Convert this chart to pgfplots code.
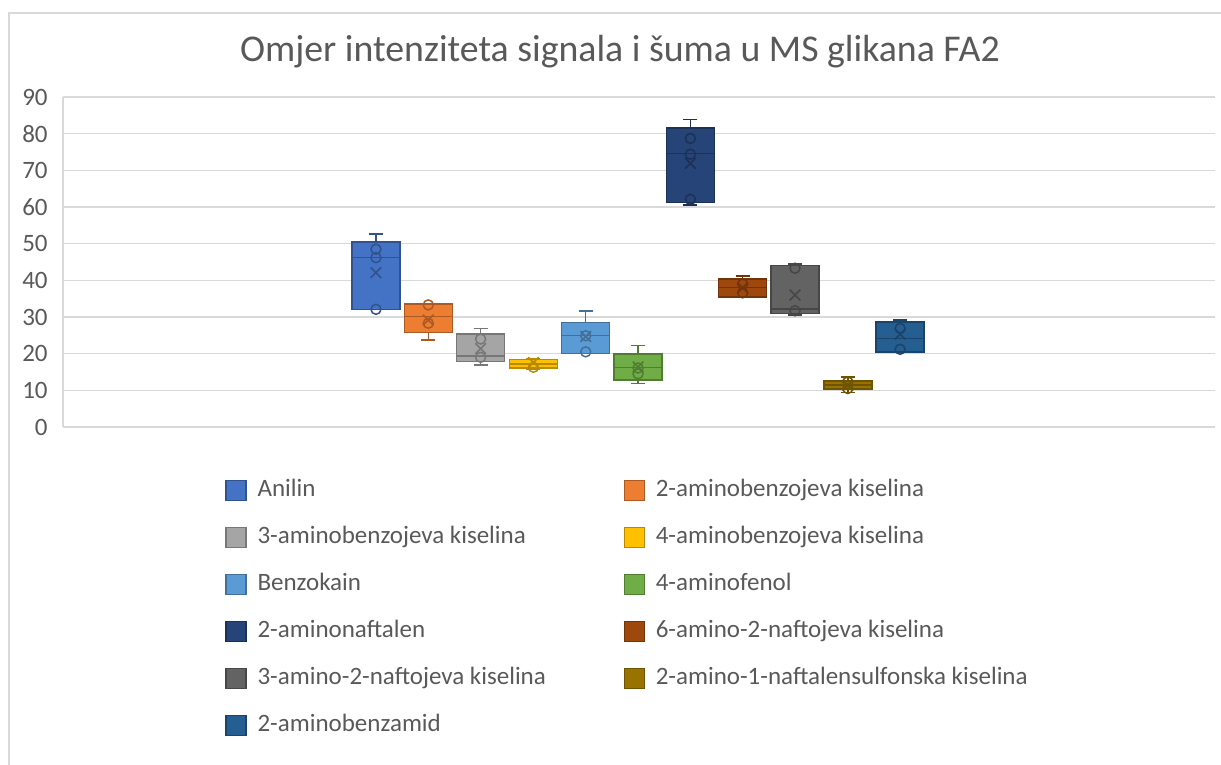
\documentclass[border=0pt]{standalone}
\usepackage{fontspec}
\setmainfont{Carlito}
\usepackage{pgfplots}
\usepgfplotslibrary{statistics}
\pgfplotsset{compat=1.18}
\definecolor{tc}{HTML}{595959}
\definecolor{gridc}{HTML}{D9D9D9}
\definecolor{cA}{HTML}{4472C4}
\definecolor{cB}{HTML}{ED7D31}
\definecolor{cC}{HTML}{A5A5A5}
\definecolor{cD}{HTML}{FFC000}
\definecolor{cE}{HTML}{5B9BD5}
\definecolor{cF}{HTML}{70AD47}
\definecolor{cG}{HTML}{264478}
\definecolor{cH}{HTML}{9E480E}
\definecolor{cI}{HTML}{636363}
\definecolor{cJ}{HTML}{997300}
\definecolor{cK}{HTML}{255E91}
% box: #1 colour, #2 position, #3 lw, #4 lq, #5 med, #6 uq, #7 uw, #8 name
\newcommand{\bx}[8]{%
  \addplot+[solid, mark=none, fill=#1, draw=#1!72!black, line width=0.75pt,
    boxplot prepared={draw position=#2, lower whisker=#3, lower quartile=#4,
      median=#5, upper quartile=#6, upper whisker=#7,
      box extend=1, whisker extend=0.29},
    legend image code/.code={\draw[fill=#1, draw=#1!72!black, line width=0.6pt] (0pt,-5pt) rectangle (10pt,5pt);}] coordinates {};
  \addlegendentry{#8}}
\newcommand{\mn}[2]{%
  \addplot[forget plot, only marks, mark=x, mark size=3.75pt, line width=0.8pt, draw=#1!72!black] coordinates {#2};}
\newcommand{\pts}[2]{%
  \addplot[forget plot, only marks, mark=o, mark size=2.5pt, line width=0.75pt, draw=#1!72!black] coordinates {#2};}
\begin{document}
\begin{tikzpicture}
\useasboundingbox (0,0) rectangle (610.5pt,-382.5pt);
\draw[gridc, line width=0.75pt] (4.5pt,-382.5pt) -- (4.5pt,-6.5pt) -- (610.5pt,-6.5pt);
\node[text=tc, font=\fontsize{18.9}{22}\selectfont] at (310pt,-26pt) {Omjer intenziteta signala i šuma u MS glikana FA2};
\begin{axis}[
  at={(31.5pt,-213.5pt)}, anchor=south west,
  scale only axis, width=576pt, height=165pt,
  xmin=0, xmax=24, ymin=0, ymax=90,
  boxplot/draw direction=y,
  xtick=\empty, ytick={0,10,...,90},
  ymajorgrids, grid style={gridc, line width=0.75pt},
  axis x line*=bottom, axis y line*=left,
  axis line style={gridc, line width=0.75pt},
  major tick length=0pt,
  tick label style={text=tc, font=\fontsize{12.5}{14}\selectfont},
  /pgf/number format/assume math mode=true,
  yticklabel style={anchor=east, inner sep=0pt, xshift=-7.5pt},
  legend style={at={(0.1406,-0.1545)}, anchor=north west, draw=none, fill=none,
    inner sep=0pt, font=\fontsize{12.5}{15}\selectfont, text=tc,
    row sep=11.5pt,
    nodes={inner sep=0pt, text height=9pt, text depth=3pt, align=flush left},
    /tikz/column 2/.style={nodes={text width=173pt}},
    /tikz/every odd column/.append style={column sep=5.5pt},
    /tikz/every even column/.append style={column sep=10pt}},
  legend columns=2, legend cell align=left,
]
\bx{cA}{6.52}{32}{32}{46.2}{50.5}{52.6}{Anilin}
\bx{cB}{7.61}{23.7}{25.8}{30.1}{33.5}{33.5}{2-aminobenzojeva kiselina}
\bx{cC}{8.70}{16.9}{17.8}{19.4}{25.4}{26.9}{3-aminobenzojeva kiselina}
\bx{cD}{9.80}{15.8}{16.1}{17.2}{18.4}{18.6}{4-aminobenzojeva kiselina}
\bx{cE}{10.89}{20.1}{20.1}{24.9}{28.5}{31.6}{Benzokain}
\bx{cF}{11.98}{11.9}{12.8}{16.2}{19.9}{22.2}{4-aminofenol}
\bx{cG}{13.07}{60.5}{61.2}{74.6}{81.5}{83.9}{2-aminonaftalen}
\bx{cH}{14.16}{35.4}{35.4}{38.1}{40.3}{41.2}{6-amino-2-naftojeva kiselina}
\bx{cI}{15.25}{30.5}{31.0}{32.2}{44.0}{44.4}{3-amino-2-naftojeva kiselina}
\bx{cJ}{16.35}{9.4}{10.3}{11.5}{12.6}{13.7}{2-amino-1-naftalensulfonska kiselina}
\bx{cK}{17.44}{20.5}{20.5}{24.2}{28.7}{29.2}{2-aminobenzamid}
\mn{cA}{(6.52,42.1)}
\mn{cB}{(7.61,29.2)}
\mn{cC}{(8.70,21.4)}
\mn{cD}{(9.80,17.6)}
\mn{cE}{(10.89,24.7)}
\mn{cF}{(11.98,16.4)}
\mn{cG}{(13.07,71.9)}
\mn{cH}{(14.16,38.0)}
\mn{cI}{(15.25,36.0)}
\mn{cJ}{(16.35,11.4)}
\mn{cK}{(17.44,25.3)}
\pts{cA}{(6.52,48.5) (6.52,46.2) (6.52,32.1)}
\pts{cB}{(7.61,33.3) (7.61,28.3)}
\pts{cC}{(8.70,24.0) (8.70,19.0)}
\pts{cD}{(9.80,16.3)}
\pts{cE}{(10.89,24.9) (10.89,20.5)}
\pts{cF}{(11.98,16.1) (11.98,14.5)}
\pts{cG}{(13.07,78.7) (13.07,74.4) (13.07,62.1)}
\pts{cH}{(14.16,39.0) (14.16,36.6)}
\pts{cI}{(15.25,43.3) (15.25,31.7)}
\pts{cJ}{(16.35,12.3) (16.35,10.5)}
\pts{cK}{(17.44,26.9) (17.44,21.2)}
\end{axis}
\end{tikzpicture}
\end{document}
